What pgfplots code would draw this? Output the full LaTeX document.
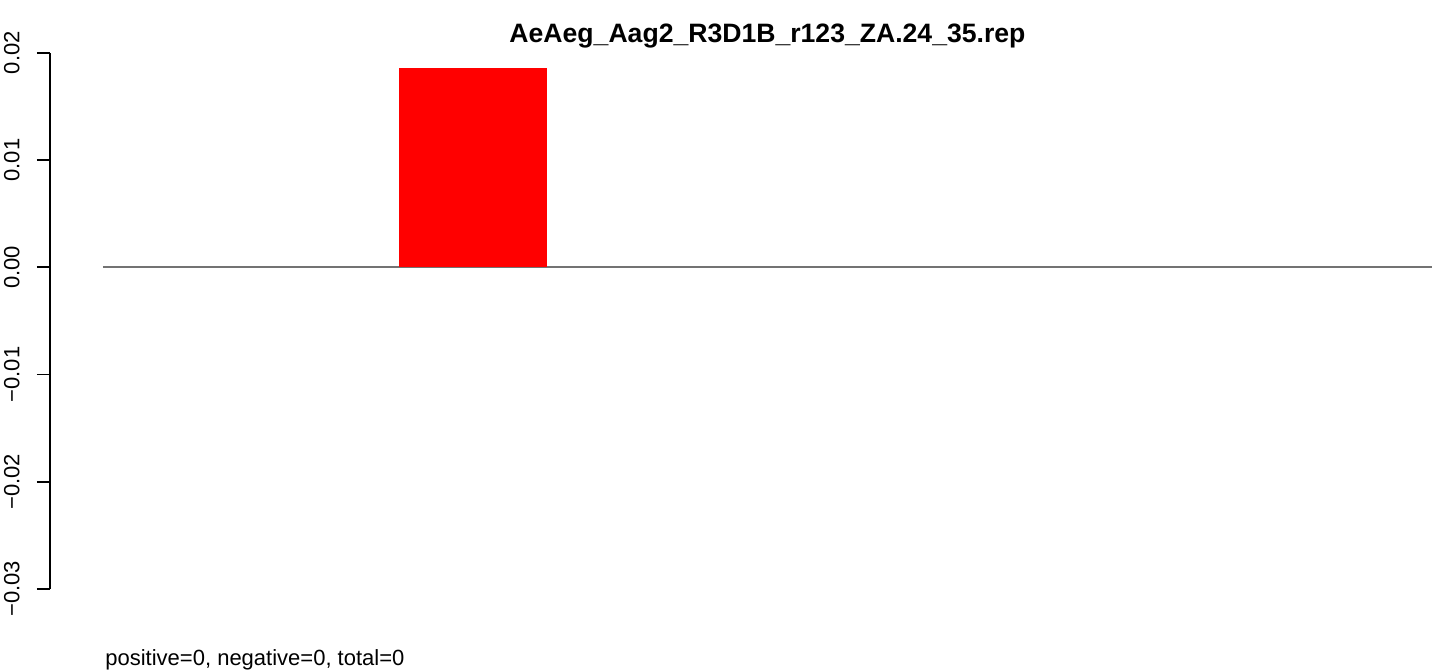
\documentclass[border=0pt]{standalone}
\usepackage{pgfplots}
\pgfplotsset{compat=1.18}
\usepackage{fontspec}
\setmainfont{Liberation Sans}
\begin{document}
\begin{tikzpicture}
\path[use as bounding box] (0,0) rectangle (723.5pt,335.5pt);
\begin{axis}[
  at={(25pt,41pt)}, anchor=south west,
  scale only axis, width=691pt, height=268.15pt,
  xmin=-0.358, xmax=8.98, ymin=-0.03, ymax=0.02,
  axis x line=none, axis y line*=left,
  axis line style={line width=0.9pt, black},
  ytick={-0.03,-0.02,-0.01,0,0.01,0.02},
  yticklabels={−0.03,−0.02,−0.01,0.00,0.01,0.02},
  scaled y ticks=false,
  tick align=outside, major tick length=6.5pt,
  tick style={line width=0.9pt, black},
  yticklabel style={rotate=90, anchor=south, inner sep=0pt, yshift=8.5pt, font=\fontsize{11}{13}\selectfont},
  clip=false,
]
\addplot[black!55, line width=0.9pt] coordinates {(0,0) (8.98,0)};
\addplot[ybar, bar width=74pt, fill=red, draw=none] coordinates {(2.5,0.01857)};
\end{axis}
\node[font=\fontsize{13.3}{15}\selectfont\bfseries] at (383.75pt,317.5pt) {AeAeg\_Aag2\_R3D1B\_r123\_ZA.24\_35.rep};
\node[font=\fontsize{11}{13}\selectfont, anchor=west, inner sep=0pt] at (52.5pt,5.5pt) {positive=0, negative=0, total=0};
\end{tikzpicture}
\end{document}
